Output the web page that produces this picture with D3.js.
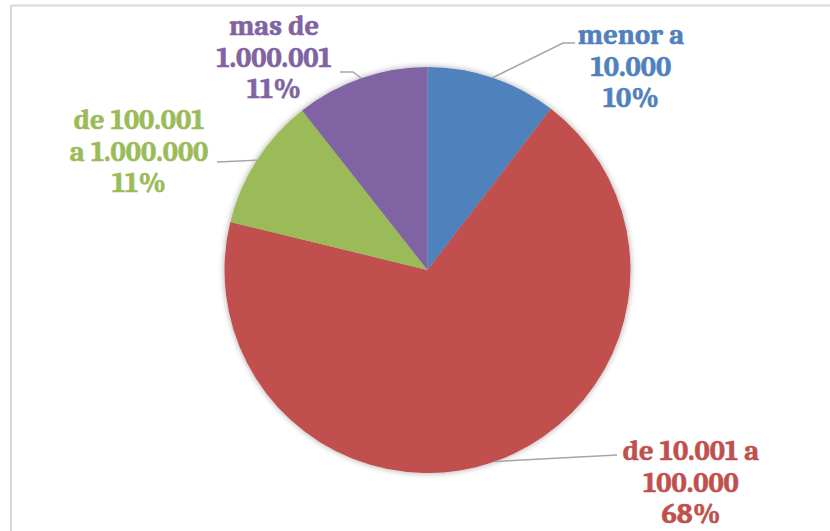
<!DOCTYPE html>
<html>
<head>
<meta charset="utf-8">
<script src="https://cdn.jsdelivr.net/npm/d3@7"></script>
<style>
  html, body { margin: 0; padding: 0; background: #fff; }
  svg { display: block; }
</style>
</head>
<body>
<script>
// ---- data ----
const categories = ["menor a 10.000", "de 10.001 a 100.000", "de 100.001 a 1.000.000", "mas de 1.000.001"];
const values = [10.4, 68.4, 10.6, 10.6];
const labelLines = [
  ["menor a", "10.000"],
  ["de 10.001 a", "100.000"],
  ["de 100.001", "a 1.000.000"],
  ["mas de", "1.000.001"]
];
const colors = ["#4F81BD", "#C0504D", "#9BBB59", "#8064A2"];

// ---- layout ----
const W = 830, H = 531;
const cx = 427.5, cy = 270, R = 203;
const lineH = 31.5;
// label anchor: centre x, first baseline y, leader-line end points
const labelPos = [
  { x: 631, y: 44, lead: [[563, 43], [575, 43]] },
  { x: 691, y: 460, lead: [[617, 455]] },
  { x: 139, y: 129, lead: [[217, 162]] },
  { x: 274, y: 35, lead: [[353, 72], [340, 72]] }
];

const svg = d3.select("body").append("svg").attr("width", W).attr("height", H);

// border (top and left visible)
svg.append("line").attr("x1", 11).attr("y1", 5.5).attr("x2", W).attr("y2", 5.5)
  .attr("stroke", "#d9d9d9").attr("stroke-width", 2);
svg.append("line").attr("x1", 11).attr("y1", 5).attr("x2", 11).attr("y2", H)
  .attr("stroke", "#d9d9d9").attr("stroke-width", 2);

const defs = svg.append("defs");
const f = defs.append("filter").attr("id", "shadow").attr("x", "-20%").attr("y", "-20%").attr("width", "140%").attr("height", "140%");
f.append("feGaussianBlur").attr("in", "SourceAlpha").attr("stdDeviation", 3).attr("result", "b");
f.append("feComponentTransfer").attr("in", "b").attr("result", "b2")
  .append("feFuncA").attr("type", "linear").attr("slope", 0.35);
const m = f.append("feMerge");
m.append("feMergeNode").attr("in", "b2");
m.append("feMergeNode").attr("in", "SourceGraphic");

const pie = d3.pie().sort(null).value(d => d);
const arcs = pie(values);
const arc = d3.arc().innerRadius(0).outerRadius(R);

const g = svg.append("g").attr("transform", `translate(${cx},${cy})`);
g.append("g").attr("filter", "url(#shadow)")
  .selectAll("path").data(arcs).join("path")
  .attr("d", arc)
  .attr("fill", (d, i) => colors[i]);

// leader lines
arcs.forEach((a, i) => {
  const mid = (a.startAngle + a.endAngle) / 2;
  const sx = cx + R * Math.sin(mid), sy = cy - R * Math.cos(mid);
  const pts = [[sx, sy]].concat(labelPos[i].lead);
  svg.append("path")
    .attr("d", d3.line()(pts))
    .attr("fill", "none")
    .attr("stroke", "#a6a6a6")
    .attr("stroke-width", 1.5);
});

// labels
const total = d3.sum(values);
arcs.forEach((a, i) => {
  const lines = labelLines[i].concat([Math.round(values[i] / total * 100) + "%"]);
  const t = svg.append("text")
    .attr("text-anchor", "middle")
    .attr("font-family", "Cambria, 'Liberation Serif', 'DejaVu Serif', serif")
    .attr("font-weight", "bold")
    .attr("font-size", 28.5)
    .attr("fill", colors[i])
    .attr("stroke", colors[i])
    .attr("stroke-width", 0.6)
    .attr("stroke-linejoin", "round");
  lines.forEach((ln, k) => {
    t.append("tspan").attr("x", labelPos[i].x).attr("y", labelPos[i].y + k * lineH).text(ln);
  });
});
</script>
</body>
</html>
